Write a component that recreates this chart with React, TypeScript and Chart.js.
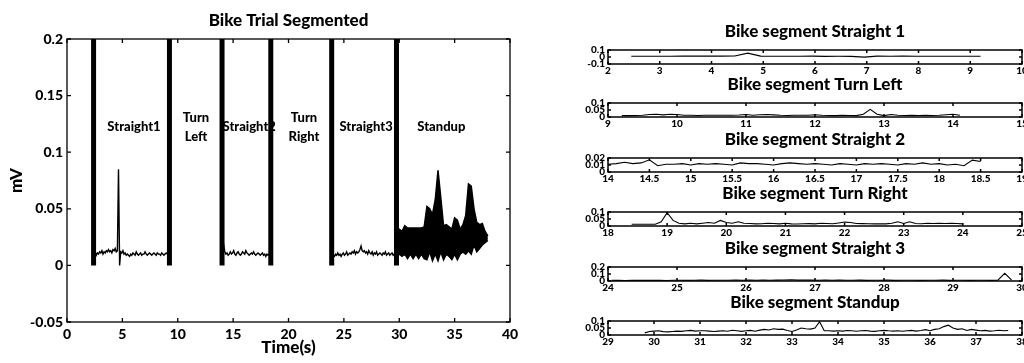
import React, { useEffect, useRef } from "react";
import { Chart, registerables } from "chart.js";

Chart.register(...registerables);

// ---------------- DATA ----------------
const MAIN_X_TICKS = [0, 5, 10, 15, 20, 25, 30, 35, 40];
const MAIN_Y_TICKS = [-0.05, 0, 0.05, 0.1, 0.15, 0.2];

// segment boundary markers (s)
const BAR_TIMES = [2.4, 9.25, 14.0, 18.4, 23.9, 29.75];
const BAR_LOW = 0;
const BAR_HIGH = 0.2;

const SEGMENT_NAMES = [["Straight1"], ["Turn", "Left"], ["Straight2"], ["Turn", "Right"], ["Straight3"], ["Standup"]];
const SEGMENT_LABEL_X = [6.05, 11.65, 16.45, 21.4, 27.0, 33.8];
const SEGMENT_LABEL_Y = 0.122;

// main trace, Straight 1 (start 2.45 s, step 0.1 s)
const S1_START = 2.45;
const S1_VALUES = [
  0.011, 0.012, 0.009, 0.011, 0.010, 0.012, 0.011, 0.013, 0.010, 0.012,
  0.011, 0.013, 0.012, 0.014, 0.012, 0.013, 0.011, 0.014, 0.013, 0.015,
  0.012, 0.013, 0.085, 0.000, 0.012, 0.011, 0.013, 0.010, 0.011, 0.009,
  0.010, 0.009, 0.008, 0.010, 0.009, 0.011, 0.010, 0.009, 0.012, 0.010,
  0.009, 0.010, 0.011, 0.009, 0.010, 0.010, 0.012, 0.010, 0.009, 0.010,
  0.011, 0.010, 0.009, 0.010, 0.011, 0.010, 0.009, 0.011, 0.010, 0.010,
  0.009, 0.011, 0.010, 0.009, 0.010, 0.011, 0.010, 0.009, 0.010,
];
// main trace, Straight 2 (start 14.05 s, step 0.1 s)
const S2_START = 14.05;
const S2_VALUES = [
  0.012, 0.018, 0.012, 0.010, 0.011, 0.009, 0.010, 0.012, 0.010, 0.011,
  0.013, 0.010, 0.009, 0.011, 0.012, 0.010, 0.009, 0.010, 0.012, 0.011,
  0.010, 0.013, 0.011, 0.010, 0.009, 0.010, 0.011, 0.010, 0.012, 0.010,
  0.009, 0.010, 0.011, 0.010, 0.009, 0.010, 0.011, 0.009, 0.010, 0.008,
  0.010, 0.009, 0.010, 0.009,
];
// main trace, Straight 3 (start 23.95 s, step 0.1 s)
const S3_START = 23.95;
const S3_VALUES = [
  0.010, 0.009, 0.008, 0.010, 0.009, 0.011, 0.009, 0.010, 0.008, 0.010,
  0.011, 0.009, 0.010, 0.012, 0.009, 0.010, 0.011, 0.010, 0.012, 0.011,
  0.013, 0.010, 0.012, 0.011, 0.012, 0.014, 0.017, 0.013, 0.012, 0.013,
  0.011, 0.012, 0.010, 0.013, 0.011, 0.010, 0.012, 0.009, 0.011, 0.010,
  0.012, 0.009, 0.010, 0.011, 0.010, 0.009, 0.011, 0.010, 0.012, 0.009,
  0.010, 0.011, 0.009, 0.010, 0.011, 0.009, 0.010, 0.009,
];
// main trace, Standup: dense signal drawn as its upper / lower envelope (start 29.75 s, step 0.25 s)
const SU_START = 29.75;
const SU_UPPER = [
  0.030, 0.032, 0.030, 0.035, 0.033, 0.033, 0.033, 0.033, 0.033, 0.033,
  0.034, 0.052, 0.050, 0.045, 0.058, 0.084, 0.060, 0.035, 0.036, 0.034,
  0.032, 0.042, 0.040, 0.032, 0.036, 0.044, 0.072, 0.070, 0.050, 0.038,
  0.036, 0.037, 0.030, 0.026,
];
const SU_LOWER = [
  0.008, 0.010, 0.008, 0.010, 0.006, 0.010, 0.006, 0.010, 0.006, 0.010,
  0.006, 0.005, 0.012, 0.004, 0.010, 0.004, 0.012, 0.005, 0.010, 0.008,
  0.005, 0.010, 0.005, 0.010, 0.012, 0.010, 0.013, 0.010, 0.018, 0.012,
  0.015, 0.018, 0.020, 0.022,
];

// ---- right-hand segment panels ----
const SEG_TITLES = [
  "Bike segment Straight 1",
  "Bike segment Turn Left",
  "Bike segment Straight 2",
  "Bike segment Turn Right",
  "Bike segment Straight 3",
  "Bike segment Standup",
];
const SEG1_X_TICKS = [2, 3, 4, 5, 6, 7, 8, 9, 10];
const SEG2_X_TICKS = [9, 10, 11, 12, 13, 14, 15];
const SEG3_X_TICKS = [14, 14.5, 15, 15.5, 16, 16.5, 17, 17.5, 18, 18.5, 19];
const SEG4_X_TICKS = [18, 19, 20, 21, 22, 23, 24, 25];
const SEG5_X_TICKS = [24, 25, 26, 27, 28, 29, 30];
const SEG6_X_TICKS = [29, 30, 31, 32, 33, 34, 35, 36, 37, 38];

const SEG1_Y_TICKS = [-0.1, 0, 0.1];
const SEG2_Y_TICKS = [0, 0.05, 0.1];
const SEG3_Y_TICKS = [0, 0.01, 0.02];
const SEG4_Y_TICKS = [0, 0.05, 0.1];
const SEG5_Y_TICKS = [0, 0.1, 0.2];
const SEG6_Y_TICKS = [0, 0.05, 0.1];

const SEG1_START = 2.45; const SEG1_STEP = 0.25;
const SEG1_VALUES = [
  0.010, 0.010, 0.011, 0.011, 0.012, 0.012, 0.013, 0.013, 0.014, 0.055,
  0.012, 0.010, 0.011, 0.010, 0.012, 0.009, 0.010, 0.009, -0.002, 0.012,
  0.011, 0.012, 0.010, 0.011, 0.010, 0.011, 0.010, 0.010,
];
const SEG2_START = 9.2; const SEG2_STEP = 0.1;
const SEG2_VALUES = [
  0.010, 0.010, 0.011, 0.012, 0.018, 0.020, 0.015, 0.020, 0.018, 0.012,
  0.012, 0.011, 0.013, 0.012, 0.012, 0.013, 0.012, 0.014, 0.018, 0.013,
  0.016, 0.018, 0.015, 0.012, 0.011, 0.012, 0.013, 0.012, 0.016, 0.012,
  0.011, 0.010, 0.012, 0.011, 0.010, 0.020, 0.055, 0.020, 0.010, 0.018,
  0.012, 0.011, 0.012, 0.011, 0.012, 0.011, 0.012, 0.016, 0.020, 0.012,
];
const SEG3_START = 14.0; const SEG3_STEP = 0.1;
const SEG3_VALUES = [
  0.011, 0.012, 0.014, 0.012, 0.013, 0.0175, 0.009, 0.011, 0.011, 0.012,
  0.010, 0.012, 0.011, 0.012, 0.011, 0.010, 0.013, 0.012, 0.012, 0.011,
  0.010, 0.012, 0.013, 0.012, 0.011, 0.012, 0.011, 0.010, 0.012, 0.011,
  0.010, 0.012, 0.011, 0.012, 0.011, 0.010, 0.012, 0.011, 0.013, 0.011,
  0.012, 0.010, 0.011, 0.009, 0.017, 0.015,
];
const SEG4_START = 18.4; const SEG4_STEP = 0.1;
const SEG4_VALUES = [
  0.012, 0.012, 0.012, 0.012, 0.012, 0.030, 0.095, 0.040, 0.020, 0.015,
  0.020, 0.015, 0.020, 0.025, 0.020, 0.040, 0.025, 0.020, 0.030, 0.020,
  0.018, 0.015, 0.016, 0.020, 0.018, 0.015, 0.020, 0.015, 0.014, 0.016,
  0.017, 0.015, 0.020, 0.018, 0.016, 0.022, 0.028, 0.025, 0.018, 0.017,
  0.016, 0.015, 0.016, 0.015, 0.020, 0.030, 0.018, 0.030, 0.018, 0.016,
  0.020, 0.018, 0.020, 0.018, 0.020, 0.018, 0.015,
];
const SEG5_START = 24.05; const SEG5_STEP = 0.1;
const SEG5_VALUES = [
  0.010, 0.009, 0.008, 0.010, 0.009, 0.011, 0.009, 0.010, 0.008, 0.010,
  0.011, 0.009, 0.010, 0.012, 0.009, 0.010, 0.011, 0.010, 0.012, 0.011,
  0.013, 0.010, 0.012, 0.011, 0.012, 0.014, 0.017, 0.013, 0.012, 0.013,
  0.011, 0.012, 0.010, 0.013, 0.011, 0.010, 0.012, 0.009, 0.011, 0.010,
  0.012, 0.009, 0.010, 0.011, 0.010, 0.009, 0.011, 0.010, 0.012, 0.009,
  0.010, 0.011, 0.009, 0.010, 0.011, 0.009, 0.012, 0.110, 0.012,
];
const SEG6_START = 29.8; const SEG6_STEP = 0.1;
const SEG6_VALUES = [
  0.015, 0.025, 0.028, 0.030, 0.024, 0.022, 0.025, 0.028, 0.026, 0.030,
  0.033, 0.028, 0.030, 0.030, 0.028, 0.025, 0.028, 0.030, 0.027, 0.034,
  0.030, 0.026, 0.030, 0.033, 0.027, 0.035, 0.040, 0.036, 0.045, 0.040,
  0.042, 0.032, 0.025, 0.035, 0.050, 0.045, 0.042, 0.050, 0.095, 0.030,
  0.030, 0.028, 0.030, 0.028, 0.032, 0.030, 0.027, 0.030, 0.032, 0.028,
  0.026, 0.030, 0.033, 0.030, 0.028, 0.030, 0.027, 0.030, 0.033, 0.028,
  0.032, 0.038, 0.030, 0.040, 0.045, 0.060, 0.070, 0.050, 0.040, 0.045,
  0.032, 0.040, 0.035, 0.030, 0.033, 0.028, 0.030, 0.034, 0.030, 0.032,
];

const SEGMENTS = [
  { title: SEG_TITLES[0], xTicks: SEG1_X_TICKS, yTicks: SEG1_Y_TICKS, start: SEG1_START, step: SEG1_STEP, values: SEG1_VALUES },
  { title: SEG_TITLES[1], xTicks: SEG2_X_TICKS, yTicks: SEG2_Y_TICKS, start: SEG2_START, step: SEG2_STEP, values: SEG2_VALUES },
  { title: SEG_TITLES[2], xTicks: SEG3_X_TICKS, yTicks: SEG3_Y_TICKS, start: SEG3_START, step: SEG3_STEP, values: SEG3_VALUES },
  { title: SEG_TITLES[3], xTicks: SEG4_X_TICKS, yTicks: SEG4_Y_TICKS, start: SEG4_START, step: SEG4_STEP, values: SEG4_VALUES },
  { title: SEG_TITLES[4], xTicks: SEG5_X_TICKS, yTicks: SEG5_Y_TICKS, start: SEG5_START, step: SEG5_STEP, values: SEG5_VALUES },
  { title: SEG_TITLES[5], xTicks: SEG6_X_TICKS, yTicks: SEG6_Y_TICKS, start: SEG6_START, step: SEG6_STEP, values: SEG6_VALUES },
];

// ---------------- LAYOUT ----------------
const FONT = "Lato, 'Open Sans', sans-serif";
const HEAVY = "900";
const MAIN_W = 530;
const MAIN_H = 363;
const SMALL_LEFT = 548;
const SMALL_W = 492;
const SMALL_AXIS_W = 60;
const SMALL_TITLE_H = 32;
const SMALL_TITLE_FONT = 17;
const SMALL_BOX_H = 14;
const SMALL_XAXIS_H = 16;
const SMALL_BOX_TOPS = [50, 103, 158, 212, 267, 321];

// ---------------- HELPERS ----------------
const series = (start: number, step: number, values: number[]) =>
  values.map((v, i) => ({ x: +(start + i * step).toFixed(4), y: v }));

const fmt = (v: number) => String(Number(Number(v).toFixed(4)));

const setTicks = (arr: number[]) => (scale: any) => {
  scale.ticks = arr.map((v) => ({ value: v }));
};

const frameTicks = {
  id: "frameTicks",
  afterDatasetsDraw(chart: any, _args: any, opts: any) {
    const { ctx, chartArea: a, scales } = chart;
    const len = opts.len ?? 4;
    ctx.save();
    ctx.strokeStyle = "#000";
    ctx.lineWidth = opts.lineWidth ?? 1;
    ctx.strokeRect(a.left, a.top, a.right - a.left, a.bottom - a.top);
    ctx.beginPath();
    for (const t of scales.x.ticks) {
      const px = scales.x.getPixelForValue(t.value);
      ctx.moveTo(px, a.bottom);
      ctx.lineTo(px, a.bottom - len);
      ctx.moveTo(px, a.top);
      ctx.lineTo(px, a.top + len);
    }
    for (const t of scales.y.ticks) {
      const py = scales.y.getPixelForValue(t.value);
      ctx.moveTo(a.left, py);
      ctx.lineTo(a.left + len, py);
      ctx.moveTo(a.right, py);
      ctx.lineTo(a.right - len, py);
    }
    ctx.stroke();
    ctx.restore();
  },
};

const segmentLabels = {
  id: "segmentLabels",
  beforeDatasetsDraw(chart: any) {
    const { ctx, scales } = chart;
    const x = scales.x;
    const y = scales.y;
    ctx.save();
    ctx.font = `${HEAVY} 13px ${FONT}`;
    ctx.fillStyle = "#000";
    ctx.textAlign = "center";
    ctx.textBaseline = "middle";
    SEGMENT_NAMES.forEach((lines, i) => {
      const cx = x.getPixelForValue(SEGMENT_LABEL_X[i]);
      const cy = y.getPixelForValue(SEGMENT_LABEL_Y);
      lines.forEach((ln, j) => ctx.fillText(ln, cx, cy + (j - (lines.length - 1) / 2) * 19));
    });
    ctx.restore();
  },
};

const lineDs = (data: any[], width = 1.2, extra: any = {}) => ({
  data,
  borderColor: "#000",
  backgroundColor: "#000",
  borderWidth: width,
  pointRadius: 0,
  tension: 0,
  fill: false,
  ...extra,
});

function mainConfig(): any {
  const datasets: any[] = [];
  BAR_TIMES.forEach((t) => {
    datasets.push(lineDs([{ x: t, y: BAR_LOW }, { x: t, y: BAR_HIGH }], 5));
  });
  datasets.push(lineDs(series(S1_START, 0.1, S1_VALUES), 1.4));
  datasets.push(lineDs(series(S2_START, 0.1, S2_VALUES), 1.4));
  datasets.push(lineDs(series(S3_START, 0.1, S3_VALUES), 1.4));
  datasets.push(lineDs(series(SU_START, 0.25, SU_UPPER), 1.5, { fill: "+1", backgroundColor: "#000" }));
  datasets.push(lineDs(series(SU_START, 0.25, SU_LOWER), 1.5));
  return {
    type: "line",
    data: { datasets },
    plugins: [segmentLabels, frameTicks],
    options: {
      animation: false,
      responsive: false,
      devicePixelRatio: 1,
      layout: { padding: { top: 1, right: 20, bottom: 0, left: 0 } },
      plugins: {
        legend: { display: false },
        tooltip: { enabled: false },
        title: {
          display: true,
          text: "Bike Trial Segmented",
          fullSize: false,
          color: "#000",
          font: { family: FONT, size: 17, weight: HEAVY, lineHeight: 1.2 },
          padding: { top: 9, bottom: 8.6 },
        },
        frameTicks: { len: 4, lineWidth: 1.3 },
      },
      scales: {
        x: {
          type: "linear",
          min: 0,
          max: 40,
          afterBuildTicks: setTicks(MAIN_X_TICKS),
          afterFit: (s: any) => { s.height = 41; },
          grid: { display: false, drawTicks: false, tickLength: 0 },
          border: { display: false },
          ticks: { color: "#000", padding: 4, maxRotation: 0, autoSkip: false, callback: (v: any) => fmt(v), font: { family: FONT, size: 14, weight: HEAVY } },
          title: { display: true, text: "Time(s)", color: "#000", padding: { top: 0, bottom: 5 }, font: { family: FONT, size: 17, weight: HEAVY, lineHeight: 1.2 } },
        },
        y: {
          type: "linear",
          min: -0.05,
          max: 0.2,
          afterBuildTicks: setTicks(MAIN_Y_TICKS),
          afterFit: (s: any) => { s.width = 67; },
          grid: { display: false, drawTicks: false, tickLength: 0 },
          border: { display: false },
          ticks: { color: "#000", padding: 4, autoSkip: false, callback: (v: any) => fmt(v), font: { family: FONT, size: 14, weight: HEAVY } },
          title: { display: true, text: "mV", color: "#000", padding: { top: 6, bottom: 0 }, font: { family: FONT, size: 17, weight: HEAVY, lineHeight: 1.2 } },
        },
      },
    },
  };
}

function smallConfig(seg: any): any {
  const lh = SMALL_TITLE_FONT * 1.2;
  return {
    type: "line",
    data: { datasets: [lineDs(series(seg.start, seg.step, seg.values), 1.1)] },
    plugins: [frameTicks],
    options: {
      animation: false,
      responsive: false,
      devicePixelRatio: 1,
      layout: { padding: { top: 0, right: SMALL_W - (1022 - SMALL_LEFT), bottom: 0, left: 0 } },
      plugins: {
        legend: { display: false },
        tooltip: { enabled: false },
        title: {
          display: true,
          text: seg.title,
          fullSize: false,
          color: "#000",
          font: { family: FONT, size: SMALL_TITLE_FONT, weight: HEAVY, lineHeight: 1.2 },
          padding: { top: SMALL_TITLE_H - 18 - lh / 2, bottom: 18 - lh / 2 },
        },
        frameTicks: { len: 3, lineWidth: 1.5 },
      },
      scales: {
        x: {
          type: "linear",
          min: seg.xTicks[0],
          max: seg.xTicks[seg.xTicks.length - 1],
          afterBuildTicks: setTicks(seg.xTicks),
          afterFit: (s: any) => { s.height = SMALL_XAXIS_H; },
          grid: { display: false, drawTicks: false, tickLength: 0 },
          border: { display: false },
          ticks: { color: "#000", padding: 2, maxRotation: 0, autoSkip: false, callback: (v: any) => fmt(v), font: { family: FONT, size: 10, weight: HEAVY, lineHeight: 1 } },
        },
        y: {
          type: "linear",
          min: seg.yTicks[0],
          max: seg.yTicks[seg.yTicks.length - 1],
          afterBuildTicks: setTicks(seg.yTicks),
          afterFit: (s: any) => { s.width = SMALL_AXIS_W; },
          grid: { display: false, drawTicks: false, tickLength: 0 },
          border: { display: false },
          ticks: { color: "#000", padding: 3, autoSkip: false, callback: (v: any) => fmt(v), font: { family: FONT, size: 10, weight: HEAVY, lineHeight: 1 } },
        },
      },
    },
  };
}

export default function App() {
  const mainRef = useRef<HTMLCanvasElement | null>(null);
  const smallRefs = useRef<(HTMLCanvasElement | null)[]>([]);

  useEffect(() => {
    const charts: Chart[] = [];
    if (mainRef.current) charts.push(new Chart(mainRef.current, mainConfig()));
    SEGMENTS.forEach((seg, i) => {
      const c = smallRefs.current[i];
      if (c) charts.push(new Chart(c, smallConfig(seg)));
    });
    return () => charts.forEach((c) => c.destroy());
  }, []);

  const smallH = SMALL_TITLE_H + SMALL_BOX_H + SMALL_XAXIS_H;

  return (
    <div style={{ position: "absolute", left: 0, top: 0, width: 1024, height: 363, overflow: "hidden", background: "#fff" }}>
      <canvas
        ref={mainRef}
        width={MAIN_W}
        height={MAIN_H}
        style={{ position: "absolute", left: 0, top: 0, width: MAIN_W, height: MAIN_H }}
      />
      {SEGMENTS.map((seg, i) => (
        <canvas
          key={seg.title}
          ref={(el) => { smallRefs.current[i] = el; }}
          width={SMALL_W}
          height={smallH}
          style={{ position: "absolute", left: SMALL_LEFT, top: SMALL_BOX_TOPS[i] - SMALL_TITLE_H, width: SMALL_W, height: smallH }}
        />
      ))}
    </div>
  );
}
